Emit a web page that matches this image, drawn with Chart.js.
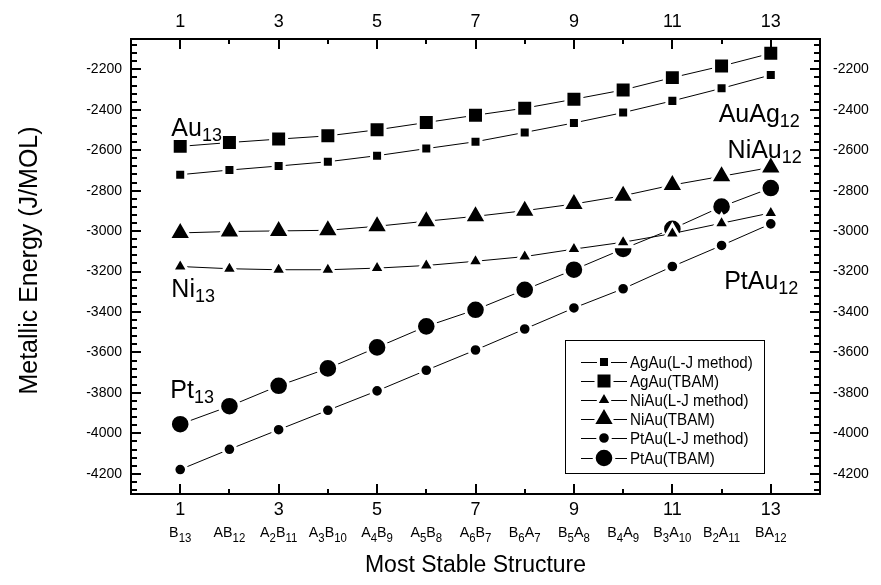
<!DOCTYPE html>
<html>
<head>
<meta charset="utf-8">
<script src="https://cdn.jsdelivr.net/npm/chart.js@4.4.0/dist/chart.umd.min.js"></script>
<style>
  html, body { margin: 0; padding: 0; background: #fff; }
  #wrap { width: 881px; height: 585px; }
</style>
</head>
<body>
<div id="wrap"><canvas id="chart" width="881" height="585"></canvas></div>
<script>
// values
const xValues = [1, 2, 3, 4, 5, 6, 7, 8, 9, 10, 11, 12, 13];
const xTickValues = [1, 3, 5, 7, 9, 11, 13];
const yTickValues = [-4200, -4000, -3800, -3600, -3400, -3200, -3000, -2800, -2600, -2400, -2200];
const structureLabels = ['B_{13}', 'AB_{12}', 'A_{2}B_{11}', 'A_{3}B_{10}', 'A_{4}B_{9}', 'A_{5}B_{8}', 'A_{6}B_{7}',
  'B_{6}A_{7}', 'B_{5}A_{8}', 'B_{4}A_{9}', 'B_{3}A_{10}', 'B_{2}A_{11}', 'BA_{12}'];

const agAuLJ   = [-2721, -2698, -2678, -2657, -2627, -2592, -2558, -2512, -2465, -2414, -2356, -2294, -2228];
const agAuTBAM = [-2581, -2562, -2545, -2529, -2499, -2463, -2427, -2392, -2348, -2302, -2241, -2184, -2121];
const niAuLJ   = [-3175, -3186, -3191, -3191, -3183, -3170, -3149, -3126, -3089, -3055, -3012, -2961, -2910];
const niAuTBAM = [-3009, -3002, -2999, -2996, -2976, -2951, -2927, -2899, -2866, -2825, -2772, -2729, -2685];
const ptAuLJ   = [-4179, -4079, -3982, -3886, -3790, -3688, -3588, -3484, -3380, -3285, -3175, -3071, -2964];
const ptAuTBAM = [-3955, -3866, -3765, -3679, -3575, -3471, -3389, -3290, -3191, -3088, -2989, -2879, -2787];

const FONT = '"Liberation Sans", Arial, Helvetica, sans-serif';

// split "A_{2}B_{11}" into plain / subscript pieces
function parseSub(str) {
  const parts = [];
  str.replace(/_\{([^}]*)\}|([^_]+)/g, (m, sub, main) => {
    parts.push(sub !== undefined ? [sub, true] : [main, false]);
  });
  return parts;
}

function drawRich(ctx, str, x, y, size, subSize, subDrop, align, sx) {
  sx = sx || 1;
  const parts = parseSub(str);
  let w = 0;
  parts.forEach(p => {
    ctx.font = (p[1] ? subSize : size) + 'px ' + FONT;
    w += ctx.measureText(p[0]).width * sx;
  });
  let cx = align === 'center' ? x - w / 2 : align === 'right' ? x - w : x;
  ctx.textAlign = 'left';
  ctx.textBaseline = 'alphabetic';
  parts.forEach(p => {
    ctx.font = (p[1] ? subSize : size) + 'px ' + FONT;
    const tw = ctx.measureText(p[0]).width * sx;
    ctx.save();
    ctx.translate(cx, y + (p[1] ? subDrop : 0));
    ctx.scale(sx, 1);
    ctx.fillText(p[0], 0, 0);
    ctx.restore();
    cx += tw;
  });
}

function series(label, values, style, radius) {
  return {
    label,
    data: xValues.map((x, i) => ({ x, y: values[i] })),
    borderColor: '#000',
    borderWidth: 1,
    pointStyle: style,
    pointRadius: radius,
    pointHoverRadius: radius,
    pointBackgroundColor: '#000',
    pointBorderColor: '#fff',
    pointBorderWidth: 3,
    fill: false,
    tension: 0
  };
}

const datasets = [
  series('AgAu(L-J method)', agAuLJ, 'rect', 7.8),
  series('AgAu(TBAM)', agAuTBAM, 'rect', 11.3),
  series('NiAu(L-J method)', niAuLJ, 'triangle', 9),
  series('NiAu(TBAM)', niAuTBAM, 'triangle', 13),
  series('PtAu(L-J method)', ptAuLJ, 'circle', 6.3),
  series('PtAu(TBAM)', ptAuTBAM, 'circle', 9.8)
];

// labels placed in data coordinates: [text, x, y, align]
const notes = [
  ['Au_{13}', 0.82, -2530, 'left'],
  ['AuAg_{12}', 13.59, -2458, 'right'],
  ['NiAu_{12}', 13.63, -2636, 'right'],
  ['Ni_{13}', 0.82, -3325, 'left'],
  ['PtAu_{12}', 13.56, -3285, 'right'],
  ['Pt_{13}', 0.80, -3824, 'left']
];

function drawMarker(ctx, style, radius, x, y) {
  ctx.fillStyle = '#000';
  ctx.strokeStyle = '#fff';
  ctx.lineWidth = 3;
  Chart.helpers.drawPoint(ctx, { pointStyle: style, radius, rotation: 0, borderWidth: 3 }, x, y);
}

const decor = {
  id: 'decor',
  afterDraw(chart) {
    const { ctx, chartArea: a, scales } = chart;
    const sx = scales.x, sy = scales.y;
    ctx.save();

    // inward ticks on all four sides
    ctx.strokeStyle = '#000';
    ctx.lineWidth = 2;
    ctx.beginPath();
    for (let v = 1; v <= 13; v++) {
      const len = v % 2 ? 10 : 5;
      const px = Math.round(sx.getPixelForValue(v));
      ctx.moveTo(px, a.bottom); ctx.lineTo(px, a.bottom - len);
      ctx.moveTo(px, a.top); ctx.lineTo(px, a.top + len);
    }
    for (let v = -4280; v <= -2080; v += 40) {
      const len = v % 200 === 0 ? 10 : 6;
      const py = Math.round(sy.getPixelForValue(v));
      ctx.moveTo(a.left, py); ctx.lineTo(a.left + len, py);
      ctx.moveTo(a.right, py); ctx.lineTo(a.right - len, py);
    }
    ctx.stroke();

    // structure row under the bottom numbers
    ctx.fillStyle = '#000';
    xValues.forEach((v, i) => {
      drawRich(ctx, structureLabels[i], sx.getPixelForValue(v), 537, 15, 12, 5, 'center', 0.95);
    });

    // axis titles
    ctx.font = '23px ' + FONT;
    ctx.textAlign = 'center';
    ctx.textBaseline = 'alphabetic';
    ctx.fillText('Most Stable Structure', (a.left + a.right) / 2, 572);
    ctx.save();
    ctx.translate(37, (a.top + a.bottom) / 2 - 6);
    ctx.rotate(-Math.PI / 2);
    ctx.font = '25px ' + FONT;
    ctx.fillText('Metallic Energy (J/MOL)', 0, 0);
    ctx.restore();

    // in-plot labels
    notes.forEach(n => {
      drawRich(ctx, n[0], sx.getPixelForValue(n[1]), sy.getPixelForValue(n[2]), 25, 18, 5, n[3], 1);
    });

    // legend box
    const bx = 565, by = 340, bw = 199, bh = 133;
    ctx.strokeStyle = '#000';
    ctx.lineWidth = 1;
    ctx.strokeRect(bx + 0.5, by + 0.5, bw, bh);
    const rowY = [362, 381, 400, 419, 438, 458];
    datasets.forEach((d, i) => {
      const y = rowY[i];
      ctx.strokeStyle = '#000';
      ctx.lineWidth = 1;
      ctx.beginPath();
      ctx.moveTo(581, y + 0.5); ctx.lineTo(627, y + 0.5);
      ctx.stroke();
      drawMarker(ctx, d.pointStyle, d.pointRadius, 604, y);
      ctx.fillStyle = '#000';
      drawRich(ctx, d.label, 630, y + 6, 17, 17, 0, 'left', 0.89);
    });

    ctx.restore();
  }
};

const xAxisBase = (pos, h, pad) => ({
  type: 'linear',
  position: pos,
  min: 0,
  max: 14,
  afterBuildTicks: s => { s.ticks = xTickValues.map(v => ({ value: v })); },
  afterFit: s => { s.height = h; },
  ticks: {
    color: '#000',
    font: { family: FONT, size: 18 },
    padding: pad,
    autoSkip: false,
    maxRotation: 0,
    callback: v => String(v)
  },
  grid: { display: false, drawTicks: false },
  border: { display: true, color: '#000', width: 2 }
});

const yAxisBase = (pos, w, pad) => ({
  type: 'linear',
  position: pos,
  min: -4300,
  max: -2050,
  afterBuildTicks: s => { s.ticks = yTickValues.map(v => ({ value: v })); },
  afterFit: s => { s.width = w; },
  ticks: {
    color: '#000',
    font: { family: FONT, size: 14 },
    padding: pad,
    callback: v => String(v)
  },
  grid: { display: false, drawTicks: false },
  border: { display: true, color: '#000', width: 2 }
});

new Chart(document.getElementById('chart').getContext('2d'), {
  type: 'line',
  data: { datasets },
  options: {
    responsive: false,
    animation: false,
    layout: { padding: 0 },
    plugins: { legend: { display: false }, tooltip: { enabled: false } },
    scales: {
      x: xAxisBase('bottom', 91, 5),
      xTop: xAxisBase('top', 39, 6),
      y: yAxisBase('left', 131, 9),
      yRight: yAxisBase('right', 61, 13)
    }
  },
  plugins: [decor]
});
</script>
</body>
</html>
